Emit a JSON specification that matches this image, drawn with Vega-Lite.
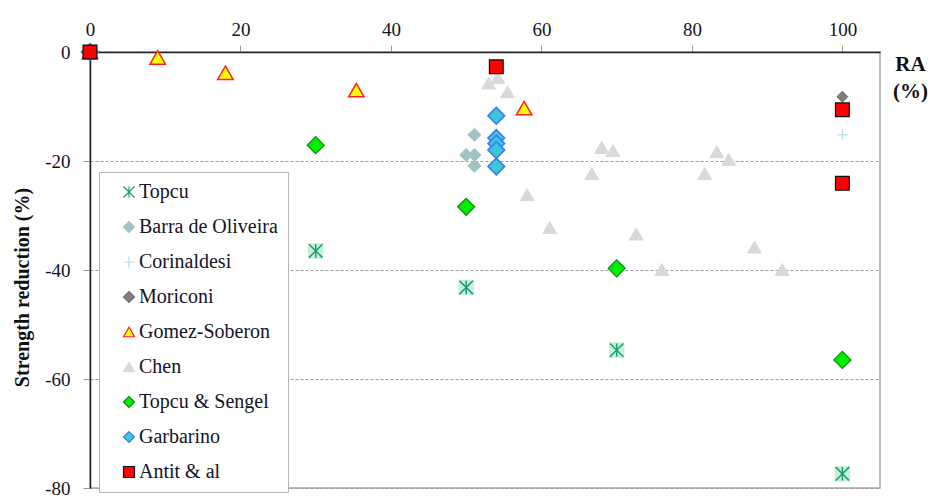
{
  "$schema": "https://vega.github.io/schema/vega-lite/v6.json",
  "autosize": {"type": "none"},
  "padding": {"left": 90, "top": 52, "right": 52, "bottom": 10},
  "width": 790,
  "height": 436,
  "background": "white",
  "config": {
    "view": {"stroke": "#a8a8a8", "strokeWidth": 1.5},
    "font": "Liberation Serif",
    "legend": {
      "orient": "none", "legendX": 9, "legendY": 120,
      "fillColor": "white", "strokeColor": "#b5b5b5",
      "padding": 10, "rowPadding": 15,
      "symbolSize": 121, "symbolStrokeWidth": 1.2, "symbolOffset": 10,
      "labelFont": "Liberation Serif", "labelFontSize": 20, "labelColor": "#141428",
      "labelOffset": 0, "labelLimit": 300
    }
  },
  "data": {"values": [
    {"s": "Chen", "x": 53.0, "y": -5.7},
    {"s": "Chen", "x": 54.2, "y": -4.7},
    {"s": "Chen", "x": 55.5, "y": -7.3},
    {"s": "Chen", "x": 58.1, "y": -26.2},
    {"s": "Chen", "x": 61.1, "y": -32.2},
    {"s": "Chen", "x": 66.7, "y": -22.3},
    {"s": "Chen", "x": 68.0, "y": -17.5},
    {"s": "Chen", "x": 69.5, "y": -18.1},
    {"s": "Chen", "x": 72.6, "y": -33.4},
    {"s": "Chen", "x": 76.0, "y": -39.9},
    {"s": "Chen", "x": 81.7, "y": -22.3},
    {"s": "Chen", "x": 83.3, "y": -18.3},
    {"s": "Chen", "x": 84.9, "y": -19.7},
    {"s": "Chen", "x": 88.3, "y": -35.8},
    {"s": "Chen", "x": 92.0, "y": -39.9},
    {"s": "Barra de Oliveira", "x": 51.1, "y": -15.2},
    {"s": "Barra de Oliveira", "x": 50.0, "y": -18.9},
    {"s": "Barra de Oliveira", "x": 51.1, "y": -18.9},
    {"s": "Barra de Oliveira", "x": 51.1, "y": -20.9},
    {"s": "Corinaldesi", "x": 100, "y": -15.2},
    {"s": "Moriconi", "x": 100, "y": -8.2},
    {"s": "Topcu & Sengel", "x": 0, "y": 0},
    {"s": "Topcu & Sengel", "x": 30, "y": -17.1},
    {"s": "Topcu & Sengel", "x": 50, "y": -28.4},
    {"s": "Topcu & Sengel", "x": 70, "y": -39.7},
    {"s": "Topcu & Sengel", "x": 100, "y": -56.5},
    {"s": "Topcu", "x": 0, "y": 0},
    {"s": "Topcu", "x": 30, "y": -36.5},
    {"s": "Topcu", "x": 50, "y": -43.2},
    {"s": "Topcu", "x": 70, "y": -54.7},
    {"s": "Topcu", "x": 100, "y": -77.4},
    {"s": "Gomez-Soberon", "x": 0, "y": 0},
    {"s": "Gomez-Soberon", "x": 9.0, "y": -1.0},
    {"s": "Gomez-Soberon", "x": 18.0, "y": -3.8},
    {"s": "Gomez-Soberon", "x": 35.4, "y": -7.0},
    {"s": "Gomez-Soberon", "x": 57.7, "y": -10.3},
    {"s": "Garbarino", "x": 0, "y": 0},
    {"s": "Garbarino", "x": 54, "y": -11.7},
    {"s": "Garbarino", "x": 54, "y": -15.8},
    {"s": "Garbarino", "x": 54, "y": -16.8},
    {"s": "Garbarino", "x": 54, "y": -18.0},
    {"s": "Garbarino", "x": 54, "y": -21.0},
    {"s": "Antit & al", "x": 0, "y": 0},
    {"s": "Antit & al", "x": 54, "y": -2.7},
    {"s": "Antit & al", "x": 100, "y": -10.6},
    {"s": "Antit & al", "x": 100, "y": -24.1}
  ]},
  "encoding": {
    "x": {
      "field": "x", "type": "quantitative",
      "scale": {"domain": [0, 105], "nice": false, "zero": false},
      "axis": {
        "orient": "top",
        "values": [0, 20, 40, 60, 80, 100],
        "grid": false, "labelFlush": false,
        "domainColor": "#222222", "domainWidth": 1.5,
        "tickColor": "#999999", "tickSize": 7, "tickWidth": 1,
        "labelFont": "Liberation Serif", "labelFontSize": 19, "labelColor": "#141428",
        "labelPadding": 6,
        "title": ["RA", "(%)"],
        "titleFont": "Liberation Serif", "titleFontSize": 21, "titleFontWeight": "bold", "titleColor": "#111111",
        "titleAngle": 0, "titleAlign": "center", "titleBaseline": "alphabetic",
        "titleX": 820, "titleY": 18, "titleLineHeight": 27
      }
    },
    "y": {
      "field": "y", "type": "quantitative",
      "scale": {"domain": [-80, 0], "nice": false, "zero": false},
      "axis": {
        "values": [0, -20, -40, -60, -80],
        "labelExpr": "'' + datum.value",
        "labelFlush": false,
        "grid": true, "gridColor": "#a0a0a0", "gridDash": [3, 2], "gridWidth": 1,
        "domainColor": "#222222", "domainWidth": 1.5,
        "tickColor": "#999999", "tickSize": 7, "tickWidth": 1,
        "labelFont": "Liberation Serif", "labelFontSize": 19, "labelColor": "#141428",
        "labelPadding": 13,
        "title": "Strength reduction (%)",
        "titleFont": "Liberation Serif", "titleFontSize": 20, "titleFontWeight": "bold", "titleColor": "#111111",
        "titleAngle": -90, "titleAlign": "center", "titleBaseline": "middle",
        "titleX": -68, "titleY": 235
      }
    },
    "shape": {
      "field": "s", "type": "nominal", "title": null,
      "scale": {
        "domain": ["Topcu", "Barra de Oliveira", "Corinaldesi", "Moriconi", "Gomez-Soberon", "Chen", "Topcu & Sengel", "Garbarino", "Antit & al"],
        "range": ["M0,-1V1M-1,-1L1,1M-1,1L1,-1", "diamond", "M-1,0H1M0,-1V1", "diamond", "triangle-up", "triangle-up", "diamond", "diamond", "square"]
      },
      "legend": {
        "labelFont": "Liberation Serif", "labelFontSize": 20, "labelColor": "#141428",
        "labelOffset": 0, "symbolOffset": 10, "rowPadding": 15, "padding": 10
      }
    },
    "fill": {
      "field": "s", "type": "nominal", "title": null,
      "scale": {
        "domain": ["Topcu", "Barra de Oliveira", "Corinaldesi", "Moriconi", "Gomez-Soberon", "Chen", "Topcu & Sengel", "Garbarino", "Antit & al"],
        "range": ["#c6f0d2", "#a2c3c6", "transparent", "#7f7f7f", "#ffff00", "#d9d9d9", "#00ee00", "#3cc6d6", "#ff0000"]
      },
      "legend": {
        "labelFont": "Liberation Serif", "labelFontSize": 20, "labelColor": "#141428",
        "labelOffset": 0, "symbolOffset": 10, "rowPadding": 15, "padding": 10
      }
    },
    "stroke": {
      "field": "s", "type": "nominal", "title": null,
      "scale": {
        "domain": ["Topcu", "Barra de Oliveira", "Corinaldesi", "Moriconi", "Gomez-Soberon", "Chen", "Topcu & Sengel", "Garbarino", "Antit & al"],
        "range": ["#1e9a82", "#a2c3c6", "#b3dfe6", "#6f6f6f", "#ff2020", "#d9d9d9", "#0a8a0a", "#3b7cf5", "#111111"]
      },
      "legend": {
        "labelFont": "Liberation Serif", "labelFontSize": 20, "labelColor": "#141428",
        "labelOffset": 0, "symbolOffset": 10, "rowPadding": 15, "padding": 10
      }
    }
  },
  "layer": [
    {
      "transform": [{"filter": "datum.s === 'Chen'"}],
      "mark": {"type": "point", "filled": true, "opacity": 1, "size": 190, "strokeWidth": 1}
    },
    {
      "transform": [{"filter": "datum.s === 'Barra de Oliveira'"}],
      "mark": {"type": "point", "filled": true, "opacity": 1, "size": 170, "strokeWidth": 1}
    },
    {
      "transform": [{"filter": "datum.s === 'Corinaldesi'"}],
      "mark": {"type": "point", "filled": true, "opacity": 1, "size": 120, "strokeWidth": 1.2}
    },
    {
      "transform": [{"filter": "datum.s === 'Moriconi'"}],
      "mark": {"type": "point", "filled": true, "opacity": 1, "size": 120, "strokeWidth": 1}
    },
    {
      "transform": [{"filter": "datum.s === 'Topcu & Sengel'"}],
      "mark": {"type": "point", "filled": true, "opacity": 1, "size": 290, "strokeWidth": 1.2}
    },
    {
      "transform": [{"filter": "datum.s === 'Topcu'"}],
      "mark": {"type": "point", "filled": true, "opacity": 1, "size": 240, "shape": "square", "fill": "#c6f0d2", "strokeWidth": 0},
      "encoding": {
        "shape": {"value": "square"},
        "fill": {"value": "#c6f0d2"},
        "stroke": {"value": null}
      }
    },
    {
      "transform": [{"filter": "datum.s === 'Topcu'"}],
      "mark": {"type": "point", "filled": true, "opacity": 1, "size": 180, "strokeWidth": 1.5}
    },
    {
      "transform": [{"filter": "datum.s === 'Gomez-Soberon'"}],
      "mark": {"type": "point", "filled": true, "opacity": 1, "size": 240, "strokeWidth": 1.5}
    },
    {
      "transform": [{"filter": "datum.s === 'Garbarino'"}],
      "mark": {"type": "point", "filled": true, "opacity": 1, "size": 280, "strokeWidth": 1.6}
    },
    {
      "transform": [{"filter": "datum.s === 'Antit & al'"}],
      "mark": {"type": "point", "filled": true, "opacity": 1, "size": 190, "strokeWidth": 1.2}
    }
  ]
}
